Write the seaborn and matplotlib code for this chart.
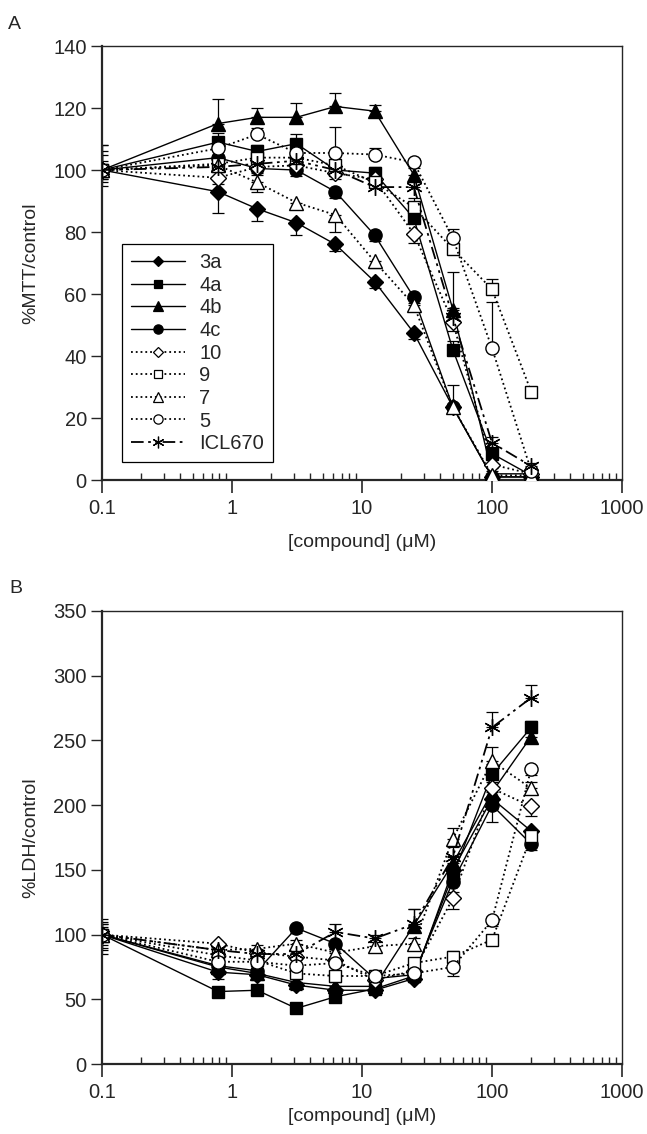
import matplotlib
matplotlib.use("Agg")
import matplotlib.pyplot as plt
from matplotlib.lines import Line2D
from matplotlib.ticker import LogLocator, FixedLocator, FuncFormatter, NullFormatter
import seaborn as sns

# concentrations (uM)
conc = [0.1, 0.78, 1.56, 3.125, 6.25, 12.5, 25, 50, 100, 200]
compounds = ["3a", "4a", "4b", "4c", "10", "9", "7", "5", "ICL670"]

# panel A: %MTT/control
mtt_3a = [100, 93, 87.5, 83, 76, 64, 47.5, 23.5, 1, 1]
mtt_4a = [100, 109, 106, 108.5, 100, 99, 84.5, 42, 8.5, 1.5]
mtt_4b = [100, 115, 117, 117, 120.5, 119, 98.5, 55, 2, 2]
mtt_4c = [100, 104, 100.5, 100, 93, 79, 59, 23.5, 1, 1]
mtt_10 = [100, 97.5, 101, 101.5, 99, 97, 79.5, 51, 5, 2]
mtt_9 = [100, 102, 104, 104, 101.5, 96, 88, 74.5, 61.5, 28.5]
mtt_7 = [100, 101.5, 96, 89.5, 85.5, 70.5, 56.5, 23.5, 1.5, 1.5]
mtt_5 = [100, 107, 111.5, 105.5, 105.5, 105, 102.5, 78, 42.5, 3]
mtt_icl = [100, 101, 102, 103, 100, 94.5, 94.5, 52.5, 12, 4.5]

# one-sided error bars (positive = up, negative = down)
mtt_err_3a = [-4, -7, -4, -4, -2, -2, -2, -2, -1, -1]
mtt_err_4a = [3, 3, 2, 3, 2, 2, 3, 3, 2, 1]
mtt_err_4b = [8, 8, 3, 4.5, 4.5, 2, 2, 12, 1, 1]
mtt_err_4c = [-3, -2, -2, -2, -2, -2, -2, -2, -1, -1]
mtt_err_10 = [-3, -2, -2, -2, -2, -2, -3, -3, -1, -1]
mtt_err_9 = [5, 2, 2, 2, 2, 2, 3, 2, 3.5, 1]
mtt_err_7 = [-5, -2, -3, -2, -5.5, -2, -2, 7, -1, -1]
mtt_err_5 = [6, 2, 2, 2, 8.5, 2, 1, 3, 15, 1]
mtt_err_icl = [8, 2, 2, 2, 2, 2, 2, 3, 2, 1]

# panel B: %LDH/control
ldh_3a = [100, 71, 69, 61, 57, 57, 66, 150, 205, 180]
ldh_4a = [100, 56, 57, 43, 52, 58, 68, 146, 224, 260]
ldh_4b = [100, 75, 70, 63, 60, 60, 107, 155, 210, 253]
ldh_4c = [100, 76, 72, 105, 93, 66, 69, 141, 200, 170]
ldh_10 = [100, 93, 86, 83, 80, 65, 72, 128, 213, 199]
ldh_9 = [100, 84, 80, 70, 68, 68, 78, 83, 96, 176]
ldh_7 = [100, 88, 89, 93, 86, 91, 93, 174, 234, 213]
ldh_5 = [100, 79, 79, 76, 78, 68, 70, 75, 111, 228]
ldh_icl = [100, 88, 85, 85, 102, 97, 108, 160, 260, 283]

ldh_err_3a = [-10, -5, -4, -4, -3, -3, -3, -8, -8, -5]
ldh_err_4a = [8, 3, 3, 4, 3, 3, 4, 6, 8, 5]
ldh_err_4b = [8, 3, 3, 3, 3, 3, 13, 6, 8, 5]
ldh_err_4c = [-15, -4, -4, -4, -4, -4, -5, -8, -13, -5]
ldh_err_10 = [-12, -3, -3, -3, -3, -3, -4, -8, -8, -7]
ldh_err_9 = [10, 3, 3, 3, 3, 3, 3, 4, 4, 5]
ldh_err_7 = [6, 3, 3, 3, 3, 3, 4, 8, 11, 5]
ldh_err_5 = [-8, -3, -3, -3, -3, -3, -4, -7, -4, -5]
ldh_err_icl = [12, 3, 3, 3, 6, 3, 12, 8, 12, 10]

mtt = [mtt_3a, mtt_4a, mtt_4b, mtt_4c, mtt_10, mtt_9, mtt_7, mtt_5, mtt_icl]
mtt_err = [mtt_err_3a, mtt_err_4a, mtt_err_4b, mtt_err_4c, mtt_err_10,
           mtt_err_9, mtt_err_7, mtt_err_5, mtt_err_icl]
ldh = [ldh_3a, ldh_4a, ldh_4b, ldh_4c, ldh_10, ldh_9, ldh_7, ldh_5, ldh_icl]
ldh_err = [ldh_err_3a, ldh_err_4a, ldh_err_4b, ldh_err_4c, ldh_err_10,
           ldh_err_9, ldh_err_7, ldh_err_5, ldh_err_icl]

dashdot = (0, (7, 2.5, 1.5, 2.5, 1.5, 2.5))
styles = {
    "3a": dict(marker="D", mfc="black", ls="-", ms=8),
    "4a": dict(marker="s", mfc="black", ls="-", ms=9),
    "4b": dict(marker="^", mfc="black", ls="-", ms=10),
    "4c": dict(marker="o", mfc="black", ls="-", ms=9.5),
    "10": dict(marker="D", mfc="white", ls=":", ms=8),
    "9": dict(marker="s", mfc="white", ls=":", ms=9),
    "7": dict(marker="^", mfc="white", ls=":", ms=10),
    "5": dict(marker="o", mfc="white", ls=":", ms=9.5),
    "ICL670": dict(marker=(6, 2, 0), mfc="black", ls=dashdot, ms=12),
}

sns.set_style("ticks")
plt.rcParams["font.family"] = ["Liberation Sans", "DejaVu Sans"]
plt.rcParams["font.size"] = 14


def draw_panel(ax, series, errors, ylim, ystep, ylabel, xpad):
    for name, vals, err in zip(compounds, series, errors):
        st = styles[name]
        lo = [-e if e < 0 else 0 for e in err]
        hi = [e if e > 0 else 0 for e in err]
        ax.errorbar(conc, vals, yerr=[lo, hi], fmt="none", ecolor="black",
                    elinewidth=0.9, capsize=4.5, capthick=0.9, zorder=2)
        sns.lineplot(x=conc, y=vals, ax=ax, color="black",
                     linewidth=1.0 if st["ls"] == "-" else 1.3,
                     linestyle=st["ls"], marker=st["marker"],
                     markersize=st["ms"], markerfacecolor=st["mfc"],
                     markeredgecolor="black", markeredgewidth=1.0,
                     zorder=3)
    ax.set_xscale("log")
    ax.set_xlim(0.1, 1000)
    ax.set_ylim(*ylim)
    ax.yaxis.set_major_locator(FixedLocator(list(range(ylim[0], ylim[1] + 1, ystep))))
    ax.xaxis.set_major_locator(FixedLocator([0.1, 1, 10, 100, 1000]))
    ax.xaxis.set_major_formatter(FuncFormatter(lambda v, p: "%g" % v))
    ax.xaxis.set_minor_locator(LogLocator(base=10, subs=range(2, 10), numticks=20))
    ax.xaxis.set_minor_formatter(NullFormatter())
    ax.tick_params(axis="x", which="major", direction="out", length=9, width=1.2,
                   labelsize=14.5, pad=5)
    ax.tick_params(axis="x", which="minor", direction="in", length=5, width=1.0)
    ax.tick_params(axis="y", which="major", direction="out", length=8, width=1.0,
                   labelsize=14.5, pad=3)
    for side in ["left", "bottom"]:
        ax.spines[side].set_linewidth(1.6)
    for side in ["top", "right"]:
        ax.spines[side].set_linewidth(1.0)
    ax.set_xlabel("[compound] (\u03bcM)", fontsize=14, labelpad=xpad)
    ax.set_ylabel(ylabel, fontsize=14, labelpad=10)


fig = plt.figure(figsize=(6.47, 11.34), dpi=100)
ax_a = fig.add_axes([0.1577, 0.5767, 0.8037, 0.3827])
ax_b = fig.add_axes([0.1577, 0.0617, 0.8037, 0.3995])

draw_panel(ax_a, mtt, mtt_err, (0, 140), 20, "%MTT/control", 11)
draw_panel(ax_b, ldh, ldh_err, (0, 350), 50, "%LDH/control", 4)

handles = []
for name in compounds:
    st = styles[name]
    handles.append(Line2D([], [], color="black", lw=1.0 if st["ls"] == "-" else 1.3,
                          linestyle=st["ls"], marker=st["marker"],
                          markersize=st["ms"] * 0.7, markerfacecolor=st["mfc"],
                          markeredgecolor="black", markeredgewidth=0.9))
leg = ax_a.legend(handles, compounds, loc="lower left", bbox_to_anchor=(0.038, 0.041),
                  borderaxespad=0, fancybox=False, edgecolor="black", framealpha=1,
                  fontsize=14.5, handlelength=2.7, handletextpad=0.7, labelspacing=0.18,
                  borderpad=0.45)
leg.get_frame().set_linewidth(0.9)

fig.text(0.012, 0.974, "A", fontsize=14)
fig.text(0.015, 0.477, "B", fontsize=14)

fig.savefig("out.png", dpi=100)
